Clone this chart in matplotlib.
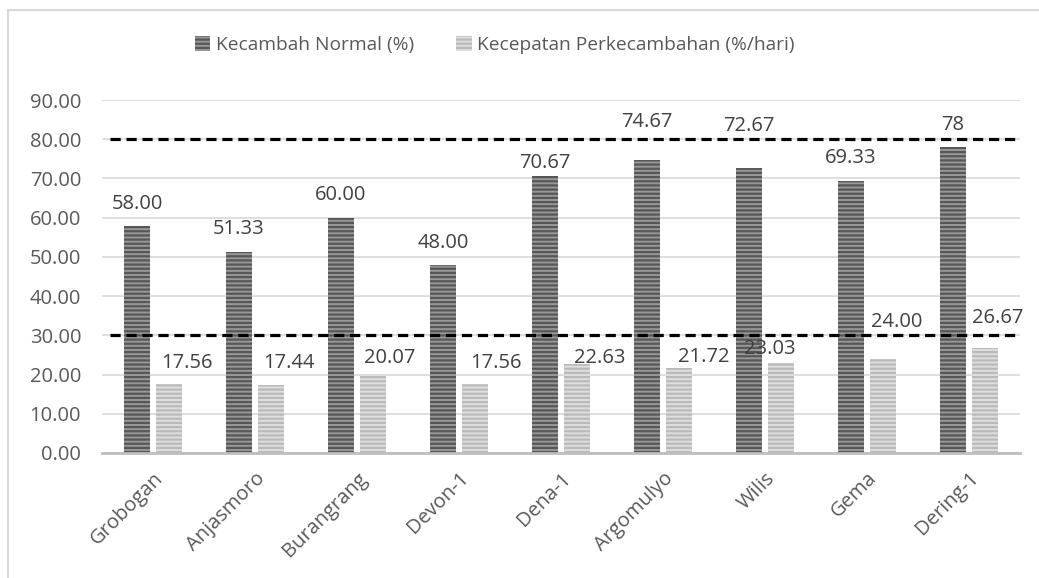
import numpy as np
import matplotlib
matplotlib.use("Agg")
import matplotlib.pyplot as plt
from matplotlib.patches import Rectangle

plt.rcParams['font.family'] = ['Open Sans', 'DejaVu Sans']
plt.rcParams['hatch.linewidth'] = 1.6

varieties = ["Grobogan", "Anjasmoro", "Burangrang", "Devon-1", "Dena-1",
             "Argomulyo", "Wilis", "Gema", "Dering-1"]
normal = [58.00, 51.33, 60.00, 48.00, 70.67, 74.67, 72.67, 69.33, 78.00]
speed = [17.56, 17.44, 20.07, 17.56, 22.63, 21.72, 23.03, 24.00, 26.67]
normal_labels = ["58.00", "51.33", "60.00", "48.00", "70.67", "74.67", "72.67", "69.33", "78"]
speed_labels = ["17.56", "17.44", "20.07", "17.56", "22.63", "21.72", "23.03", "24.00", "26.67"]
ref_lines = [80, 30]
yticks = np.arange(0, 91, 10)

# label offsets in pixels (dx, dy above bar top) as placed in the original
normal_off = [(0, 17), (0, 18), (0, 18), (0, 17), (0, 8), (0, 33), (0, 37), (0, 18), (0, 17)]
speed_off = [(18, 16), (18, 17), (17, 11), (21, 16), (23, 1), (25, 6), (-11, 9), (14, 32), (13, 25)]

fig = plt.figure(figsize=(10.39, 5.78), dpi=100)
ax = fig.add_axes([102/1039, 1-453/578, (1020-102)/1039, (453-100)/578])

# outer chart frame
fig.patches.append(Rectangle((8/1039, -0.2), 1.2, 1.2 - 10/578, transform=fig.transFigure,
                             fill=False, edgecolor='#d9d9d9', linewidth=1.5, zorder=0))

x = np.arange(len(varieties))
w = 0.255
off = 0.157
b1 = ax.bar(x - off, normal, w, color='#989898', edgecolor='#575757', hatch='----',
            linewidth=0, label='Kecambah Normal (%)', zorder=2)
b2 = ax.bar(x + off, speed, w, color='#dedede', edgecolor='#bababa', hatch='----',
            linewidth=0, label='Kecepatan Perkecambahan (%/hari)', zorder=2)

for xi, v, lab, (dx, dy) in zip(x - off, normal, normal_labels, normal_off):
    ax.annotate(lab, (xi, v), xytext=(dx, dy), textcoords='offset pixels',
                ha='center', va='baseline', fontsize=14.5, color='#404040')
for xi, v, lab, (dx, dy) in zip(x + off, speed, speed_labels, speed_off):
    ax.annotate(lab, (xi, v), xytext=(dx, dy), textcoords='offset pixels',
                ha='center', va='baseline', fontsize=14.5, color='#404040')

for r in ref_lines:
    ax.plot([-0.42, 8.45], [r, r], color='black', linewidth=2.3,
            linestyle=(0, (3.2, 1.8)), zorder=3)

ax.set_xlim(-0.5, len(varieties) - 0.5)
ax.set_ylim(0, 90)
ax.set_yticks(yticks)
ax.set_yticklabels(["%.2f" % t for t in yticks])
ax.set_xticks(x)
ax.set_xticklabels(varieties, rotation=45, ha='right', rotation_mode='anchor')
ax.tick_params(axis='both', length=0, labelsize=14.5, labelcolor='#595959')
ax.tick_params(axis='y', pad=15)
ax.tick_params(axis='x', pad=11)
ax.grid(axis='y', color='#d9d9d9', linewidth=1.2, zorder=0)
ax.set_axisbelow(True)
for s in ['top', 'right', 'left']:
    ax.spines[s].set_visible(False)
ax.spines['bottom'].set_color('#bfbfbf')
ax.spines['bottom'].set_linewidth(2)
ax.spines['bottom'].set_zorder(4)

fig.legend(handles=[b1, b2], loc='center', bbox_to_anchor=(495/1039, 1-45/578), ncol=2,
           frameon=False, fontsize=13.8, handlelength=0.8, handleheight=0.8,
           handletextpad=0.3, columnspacing=2.2, labelcolor='#595959')

fig.savefig('out.png', dpi=100)
